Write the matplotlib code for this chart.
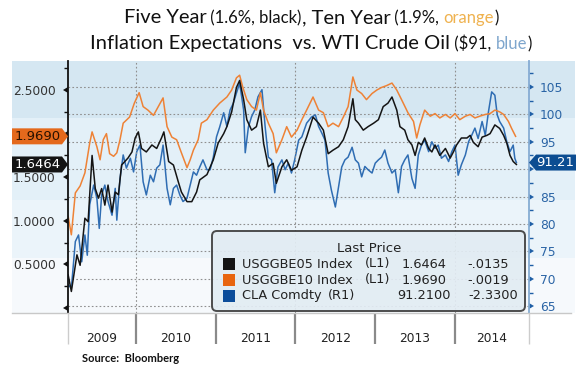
import matplotlib
matplotlib.use("Agg")
import matplotlib.pyplot as plt
import matplotlib.markers as mmarkers
import matplotlib.transforms as mtransforms
from matplotlib.patches import Rectangle, Polygon, FancyBboxPatch
from matplotlib.lines import Line2D
from matplotlib.ticker import MultipleLocator

# ---- data (decimal year, value) ----
t_5y = [2009.15, 2009.19, 2009.26, 2009.30, 2009.36, 2009.40, 2009.45, 2009.49, 2009.53, 2009.57,
        2009.61, 2009.65, 2009.70, 2009.74, 2009.78, 2009.82, 2009.86, 2009.90, 2009.95, 2009.99,
        2010.03, 2010.07, 2010.13, 2010.20, 2010.26, 2010.32, 2010.35, 2010.41, 2010.47, 2010.53,
        2010.57, 2010.64, 2010.70, 2010.76, 2010.80, 2010.89, 2010.97, 2011.03, 2011.10, 2011.14,
        2011.20, 2011.26, 2011.30, 2011.35, 2011.39, 2011.45, 2011.51, 2011.56, 2011.60, 2011.66,
        2011.72, 2011.76, 2011.83, 2011.89, 2011.95, 2012.02, 2012.08, 2012.14, 2012.22, 2012.29,
        2012.35, 2012.41, 2012.47, 2012.54, 2012.60, 2012.66, 2012.72, 2012.75, 2012.79, 2012.85,
        2012.91, 2012.98, 2013.04, 2013.10, 2013.16, 2013.21, 2013.27, 2013.31, 2013.37, 2013.41,
        2013.46, 2013.50, 2013.54, 2013.58, 2013.62, 2013.67, 2013.71, 2013.75, 2013.81, 2013.88,
        2013.94, 2013.98, 2014.02, 2014.08, 2014.15, 2014.19, 2014.23, 2014.29, 2014.34, 2014.40,
        2014.44, 2014.50, 2014.56, 2014.61, 2014.65, 2014.69, 2014.73, 2014.77]
five_year = [0.38, 0.19, 0.61, 0.49, 1.03, 0.99, 1.75, 1.37, 1.26, 1.37,
             1.18, 1.41, 1.10, 1.33, 1.30, 1.64, 1.68, 1.72, 1.79, 1.95,
             2.02, 1.83, 1.79, 1.87, 1.83, 1.95, 2.02, 1.68, 1.64, 1.45,
             1.33, 1.22, 1.22, 1.33, 1.47, 1.53, 1.70, 1.89, 2.00, 2.08,
             2.25, 2.53, 2.61, 2.39, 2.16, 2.04, 2.08, 2.27, 1.89, 1.62,
             1.66, 1.43, 1.62, 1.70, 1.58, 1.62, 1.81, 1.96, 2.19, 2.12,
             2.04, 1.77, 1.81, 1.85, 1.93, 2.08, 2.40, 2.16, 2.12, 2.04,
             2.08, 2.12, 2.16, 2.31, 2.35, 2.42, 2.27, 2.08, 2.04, 1.93,
             1.87, 1.75, 1.90, 1.87, 1.95, 1.83, 1.79, 1.87, 1.75, 1.83,
             1.72, 1.79, 1.87, 1.95, 1.95, 1.98, 1.90, 1.85, 1.96, 1.98,
             2.00, 2.10, 2.06, 1.98, 1.89, 1.75, 1.68, 1.6464]

t_10y = [2009.15, 2009.19, 2009.24, 2009.30, 2009.36, 2009.42, 2009.45, 2009.51, 2009.55, 2009.59,
         2009.63, 2009.67, 2009.72, 2009.76, 2009.80, 2009.84, 2009.92, 2009.98, 2010.04, 2010.09,
         2010.15, 2010.22, 2010.28, 2010.34, 2010.39, 2010.45, 2010.51, 2010.57, 2010.64, 2010.68,
         2010.72, 2010.78, 2010.82, 2010.89, 2010.97, 2011.05, 2011.14, 2011.20, 2011.26, 2011.30,
         2011.34, 2011.39, 2011.45, 2011.51, 2011.56, 2011.60, 2011.66, 2011.72, 2011.76, 2011.83,
         2011.89, 2011.95, 2012.02, 2012.08, 2012.14, 2012.22, 2012.29, 2012.35, 2012.41, 2012.47,
         2012.54, 2012.60, 2012.66, 2012.72, 2012.77, 2012.83, 2012.89, 2012.96, 2013.02, 2013.08,
         2013.14, 2013.21, 2013.27, 2013.33, 2013.41, 2013.48, 2013.52, 2013.56, 2013.62, 2013.69,
         2013.75, 2013.81, 2013.88, 2013.94, 2014.00, 2014.06, 2014.13, 2014.19, 2014.25, 2014.31,
         2014.38, 2014.44, 2014.50, 2014.56, 2014.61, 2014.67, 2014.71, 2014.76]
ten_year = [1.05, 0.84, 1.32, 1.40, 1.55, 1.89, 2.02, 1.85, 1.70, 1.93,
            2.00, 1.77, 1.74, 1.78, 1.93, 2.12, 2.19, 2.35, 2.47, 2.31,
            2.27, 2.21, 2.31, 2.41, 2.08, 1.96, 1.93, 1.78, 1.61, 1.70,
            1.81, 1.93, 2.12, 2.16, 2.27, 2.35, 2.42, 2.50, 2.64, 2.67,
            2.53, 2.39, 2.31, 2.27, 2.47, 2.27, 2.12, 2.00, 1.78, 1.93,
            2.08, 1.96, 2.04, 2.16, 2.27, 2.42, 2.27, 2.24, 2.08, 2.12,
            2.08, 2.19, 2.31, 2.65, 2.50, 2.46, 2.39, 2.46, 2.50, 2.53,
            2.55, 2.58, 2.50, 2.39, 2.24, 2.14, 1.95, 2.10, 2.27, 2.20,
            2.23, 2.18, 2.22, 2.18, 2.23, 2.16, 2.20, 2.22, 2.18, 2.20,
            2.22, 2.23, 2.27, 2.25, 2.22, 2.14, 2.06, 1.969]

t_oil = [2009.15, 2009.19, 2009.24, 2009.28, 2009.32, 2009.36, 2009.39, 2009.42, 2009.47, 2009.51,
         2009.54, 2009.57, 2009.61, 2009.65, 2009.70, 2009.74, 2009.76, 2009.80, 2009.84, 2009.88,
         2009.93, 2009.97, 2010.01, 2010.05, 2010.09, 2010.13, 2010.18, 2010.22, 2010.26, 2010.30,
         2010.34, 2010.39, 2010.43, 2010.47, 2010.51, 2010.55, 2010.59, 2010.64, 2010.68, 2010.72,
         2010.76, 2010.80, 2010.84, 2010.89, 2010.93, 2010.97, 2011.01, 2011.05, 2011.10, 2011.14,
         2011.18, 2011.22, 2011.26, 2011.30, 2011.35, 2011.37, 2011.41, 2011.45, 2011.49, 2011.53,
         2011.58, 2011.62, 2011.66, 2011.70, 2011.74, 2011.78, 2011.83, 2011.87, 2011.91, 2011.95,
         2011.99, 2012.04, 2012.08, 2012.14, 2012.20, 2012.25, 2012.29, 2012.33, 2012.37, 2012.41,
         2012.45, 2012.50, 2012.54, 2012.58, 2012.62, 2012.66, 2012.71, 2012.75, 2012.79, 2012.83,
         2012.87, 2012.91, 2012.96, 2013.00, 2013.04, 2013.08, 2013.12, 2013.16, 2013.21, 2013.25,
         2013.29, 2013.33, 2013.37, 2013.41, 2013.46, 2013.50, 2013.54, 2013.58, 2013.62, 2013.67,
         2013.71, 2013.75, 2013.79, 2013.83, 2013.88, 2013.92, 2013.96, 2014.00, 2014.04, 2014.08,
         2014.13, 2014.17, 2014.21, 2014.25, 2014.29, 2014.34, 2014.38, 2014.42, 2014.46, 2014.50,
         2014.53, 2014.56, 2014.61, 2014.65, 2014.69, 2014.73, 2014.75, 2014.77]
wti = [68.9, 68.3, 76.8, 78.0, 73.1, 78.0, 74.3, 83.5, 87.1, 84.7,
       79.2, 85.3, 87.1, 84.1, 81.6, 86.5, 80.7, 88.3, 92.6, 90.2,
       92.0, 89.5, 93.2, 94.4, 87.7, 85.3, 88.9, 87.7, 90.2, 90.8,
       94.4, 86.5, 83.5, 86.5, 87.1, 85.3, 84.1, 84.7, 87.1, 89.5,
       88.9, 90.4, 91.7, 89.9, 89.9, 92.2, 95.9, 97.7, 100.3, 97.8,
       100.8, 102.0, 103.9, 105.7, 100.8, 93.0, 97.7, 99.6, 100.8, 103.2,
       104.5, 97.7, 92.2, 91.7, 85.7, 90.4, 91.7, 89.9, 91.1, 89.3,
       91.7, 95.3, 95.9, 98.4, 99.5, 99.9, 97.8, 96.6, 95.3, 89.3,
       86.2, 83.1, 86.8, 90.4, 91.7, 92.2, 94.0, 91.7, 91.1, 88.6,
       90.5, 89.9, 89.3, 91.1, 91.7, 92.2, 93.5, 91.1, 89.3, 89.9,
       85.7, 90.5, 91.7, 92.6, 88.3, 86.5, 92.6, 94.4, 95.3, 93.2,
       95.0, 93.8, 94.4, 92.0, 92.6, 91.4, 93.2, 94.4, 88.9, 90.8,
       92.6, 95.0, 96.2, 97.5, 95.6, 98.7, 96.2, 100.5, 104.1, 103.5,
       99.9, 98.7, 97.5, 95.0, 93.2, 94.4, 92.0, 91.21]

years = [2009, 2010, 2011, 2012, 2013, 2014]
left_ticks = [0, 0.5, 1.0, 1.5, 2.0, 2.5]
right_ticks = [65, 70, 75, 80, 85, 90, 95, 100, 105]
# labels hidden behind the last-value boxes in the original
left_hidden = [0, 2.0]
right_hidden = [90]

legend_names = ["USGGBE05 Index", "USGGBE10 Index", "CLA Comdty"]
legend_axis = ["(L1)", "(L1)", "(R1)"]
legend_last = [five_year[-1], ten_year[-1], wti[-1]]
legend_change = [-0.0135, -0.0019, -2.33]

# ---- colours ----
c_black = "#141414"
c_orange = "#ee8236"
c_blue = "#2f6db3"

W, H = 578, 367
fig = plt.figure(figsize=(W / 100, H / 100), dpi=100)
fig.patch.set_facecolor("white")
ident = mtransforms.IdentityTransform()


def fx(x):
    return x / W


def fy(y):
    return 1 - y / H


def ptext(x, y, s, **kw):
    # pixel coords measured from the top-left
    return fig.text(x, H - y, s, transform=ident, **kw)


# background bands
for top, bot, col in [(61, 118, "#d5e7f2"), (118, 200, "#e3f0f8"),
                      (200, 258, "#ebf4fa"), (258, 313, "#f6f9fc")]:
    fig.add_artist(Rectangle((fx(12), fy(bot)), fx(575) - fx(12), fy(top) - fy(bot),
                             transform=fig.transFigure, facecolor=col,
                             edgecolor="none", zorder=-10))

ax = fig.add_axes([fx(68), fy(313), fx(529) - fx(68), fy(61) - fy(313)])
ax2 = ax.twinx()
ax.set_zorder(ax2.get_zorder() + 1)
ax.patch.set_visible(False)
ax2.patch.set_visible(False)

ax2.plot(t_oil, wti, color=c_blue, lw=1.1)
ax.plot(t_10y, ten_year, color=c_orange, lw=1.1)
ax.plot(t_5y, five_year, color=c_black, lw=1.1)

x0, x1 = 2009.148, 2014.928
ax.set_xlim(x0, x1)
ax.set_ylim(-0.057, 2.833)
ax2.set_ylim(63.76, 109.74)

# grid
ax2.set_yticks(right_ticks)
ax2.set_yticklabels(["" if v in right_hidden else str(v) for v in right_ticks])
ax2.grid(axis="y", color="#8f8f8f", ls=(0, (1.5, 2.0)), lw=0.8)
ax.set_xticks([2010, 2012, 2014])
ax.grid(axis="x", color="#8f8f8f", ls=(0, (1.5, 2.0)), lw=0.8)
ax.tick_params(axis="x", length=0, labelbottom=False)

# spines
for s in ["top", "right", "bottom"]:
    ax.spines[s].set_visible(False)
for s in ["top", "left", "bottom"]:
    ax2.spines[s].set_visible(False)
ax.spines["left"].set_color("#111111")
ax.spines["left"].set_linewidth(1.3)
ax2.spines["right"].set_color("#86acd3")
ax2.spines["right"].set_linewidth(1.3)

# left axis ticks
ax.set_yticks(left_ticks)
ax.set_yticklabels(["" if v in left_hidden else f"{v:.4f}" for v in left_ticks])
ax.yaxis.set_minor_locator(MultipleLocator(0.25))
ax.tick_params(axis="y", which="major", length=5, width=0, color="#111111",
               labelcolor="#333333", labelsize=8.8, pad=4)
ax.tick_params(axis="y", which="minor", length=3, width=1, color="#111111")
for tk in ax.yaxis.get_major_ticks():
    tk.tick1line.set_marker(mmarkers.CARETLEFTBASE)

# right axis ticks
ax2.yaxis.set_minor_locator(MultipleLocator(2.5))
ax2.tick_params(axis="y", which="major", length=5, width=0, color="#1f5fa6",
                labelcolor="#2a64a5", labelsize=8.8, pad=3)
ax2.tick_params(axis="y", which="minor", length=3, width=1, color="#1f5fa6")
for tk in ax2.yaxis.get_major_ticks():
    tk.tick2line.set_marker(mmarkers.CARETRIGHTBASE)

# x axis band: separators and year labels
blend = mtransforms.blended_transform_factory(ax.transData, ax.transAxes)
ax.vlines(years[1:], 0, -0.123, transform=blend, clip_on=False, color="#8a8a8a", lw=1.6)
ax.vlines([x0, x1], 0, -0.123, transform=blend, clip_on=False, color="#cccccc", lw=1.0)
for yr in years:
    mid = (max(yr, x0) + min(yr + 1, x1)) / 2
    ax.text(mid, -0.103, str(yr), transform=blend, ha="center", va="center",
            fontsize=8.8, color="#222222")
fig.add_artist(Line2D([fx(12), fx(571)], [fy(313), fy(313)], transform=fig.transFigure,
                      color="#c8c8c8", lw=1.0))


# last-value boxes
def value_box(yd, text, face, tcol, side):
    if side == "left":
        pts = [(12, yd - 8), (62, yd - 8), (68, yd), (62, yd + 8), (12, yd + 8)]
        cx = 38
    else:
        pts = [(529, yd), (536, yd - 8), (576, yd - 8), (576, yd + 8), (536, yd + 8)]
        cx = 555
    fig.add_artist(Polygon(pts, closed=True, transform=ident, facecolor=face,
                           edgecolor="none", zorder=5))
    fig.text(cx, yd, text, transform=ident, ha="center", va="center",
             fontsize=9.5, color=tcol, zorder=6)


y_or = ax.transData.transform((x0, ten_year[-1]))[1]
y_bk = ax.transData.transform((x0, five_year[-1]))[1]
y_bl = ax2.transData.transform((x0, wti[-1]))[1]
value_box(y_or, f"{ten_year[-1]:.4f}", "#e4691c", "#2a1200", "left")
value_box(y_bk, f"{five_year[-1]:.4f}", c_black, "white", "left")
value_box(y_bl, f"{wti[-1]:.2f}", "#0c4d92", "white", "right")

# legend box
fig.add_artist(FancyBboxPatch((212, H - 311), 313, 80, transform=ident,
                              boxstyle="round,pad=0,rounding_size=5",
                              facecolor="#e2ecf3", alpha=0.92, edgecolor="#3e3e3e",
                              lw=1.4, zorder=7))
ptext(369, 248, "Last Price", ha="center", va="center", fontsize=9.5, color="#222222", zorder=8)
sq_cols = [c_black, "#e8650f", "#0b4c9a"]
row_y = [264, 280, 295.5]
tag_x = [365, 365, 328]
val_x = [402, 402, 397]
chg_x = [467, 467, 468]
for i in range(3):
    fig.add_artist(Rectangle((223, H - row_y[i] - 6), 12, 12, transform=ident,
                             facecolor=sq_cols[i], edgecolor="none", zorder=8))
    ptext(242, row_y[i], legend_names[i], va="center", fontsize=9.3, color="#222222", zorder=8)
    ptext(tag_x[i], row_y[i], legend_axis[i], va="center", fontsize=9.3, color="#222222", zorder=8)
    ptext(val_x[i], row_y[i], f"{legend_last[i]:.4f}", va="center", fontsize=9.3,
          color="#222222", zorder=8)
    ptext(chg_x[i], row_y[i], f"{legend_change[i]:.4f}".replace("-0.", "-."), va="center",
          fontsize=9.3, color="#222222", zorder=8)

# title made of pieces with different sizes/colours
renderer = fig.canvas.get_renderer()
big, small = 14.5, 12


def title_line(pieces, y_base, cx=311):
    texts = []
    for s, fs, col in pieces:
        texts.append(ptext(0, y_base, s, fontsize=fs, color=col, va="baseline",
                           family="Lato"))
    widths = [t.get_window_extent(renderer).width for t in texts]
    x = cx - sum(widths) / 2
    for t, w in zip(texts, widths):
        t.set_x(x)
        x += w


title_line([("Five Year", big, "#111111"), (" (1.6%, black)", small, "#111111"),
            (", Ten Year", big, "#111111"), (" (1.9%, ", small, "#111111"),
            ("orange", small, "#efb24f"), (")", small, "#111111")], 23)
title_line([("Inflation Expectations  vs. WTI Crude Oil", big, "#111111"),
            (" ($91, ", small, "#111111"), ("blue", small, "#7ea6cd"),
            (")", small, "#111111")], 49)

ptext(82, 359, "Source:  Bloomberg", va="center", fontsize=8, fontweight="bold",
      family="Lato", color="#111111")

fig.savefig("out.png", dpi=100)
